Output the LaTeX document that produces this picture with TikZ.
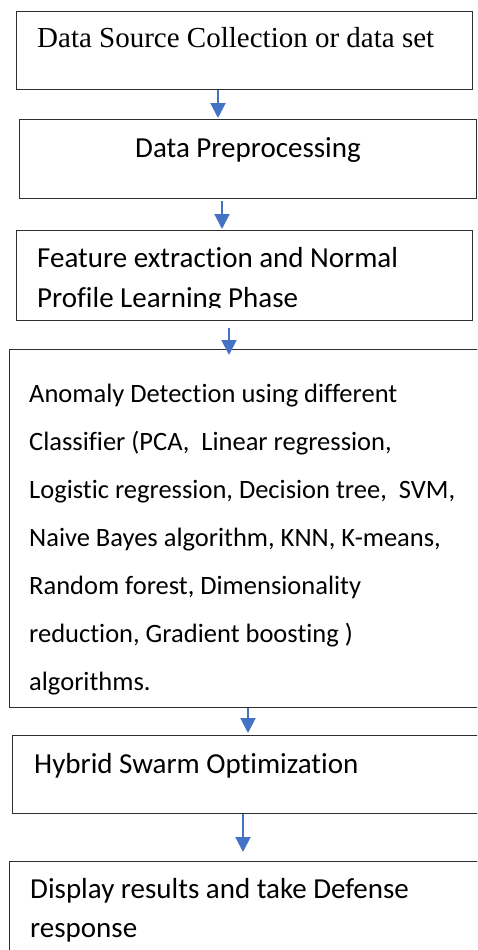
\documentclass[tikz,border=0pt]{standalone}
\usepackage{fontspec}
\setmainfont{Carlito}[Ligatures=NoCommon]
\newfontfamily\serifface{Liberation Serif}
\usetikzlibrary{arrows.meta}
\definecolor{flowblue}{HTML}{4472C4}
\definecolor{edgegray}{HTML}{2E2E2E}
\tikzset{
  stage/.style={draw=edgegray, line width=1.3pt, rectangle, inner sep=0pt, anchor=north west},
  % multi-line labels sit on the baseline of their last line
  label/.style={anchor=base west, inner sep=0pt, align=left},
  flow/.style={draw=flowblue, line width=2pt, -{Triangle[width=15pt,length=15pt]}},
}
\begin{document}
\begin{tikzpicture}[x=1pt,y=-1pt]
\useasboundingbox (0,0) rectangle (477,950);
\clip (0,0) rectangle (477,950);
\fill[white] (0,0) rectangle (477,950);

% process boxes
\node[stage, minimum width=456pt, minimum height=78pt] (b1) at (16,11) {};
\node[stage, minimum width=457pt, minimum height=79pt] (b2) at (19,119) {};
\node[stage, minimum width=456pt, minimum height=90pt] (b3) at (16,230) {};
\node[stage, minimum width=490pt, minimum height=358pt] (b4) at (9,349) {};
\node[stage, minimum width=490pt, minimum height=78pt] (b5) at (12,735) {};
\node[stage, minimum width=490pt, minimum height=130pt] (b6) at (9,861) {};

% box texts
\node[label, font=\serifface\fontsize{29}{34}\selectfont] (t1) at (37,48) {Data Source Collection or data set};
\node[label, font=\fontsize{29}{34}\selectfont] (t2) at (135,157) {Data Preprocessing};
\begin{scope}
  \clip (16,230) rectangle (472,307.5);
  \node[label, font=\fontsize{29}{40}\selectfont] (t3) at (37,307) {Feature extraction and Normal\\Profile Learning Phase};
\end{scope}
\node[label, font=\fontsize{26.5}{48}\selectfont] (t4) at (29,690) {Anomaly Detection using different\\Classifier (PCA,\ \ Linear regression,\\Logistic regression, Decision tree,\ \ SVM,\\Naive Bayes algorithm, KNN, K-means,\\Random forest, Dimensionality\\reduction, Gradient boosting )\\algorithms.};
\node[label, font=\fontsize{29}{34}\selectfont] (t5) at (34,773) {Hybrid Swarm Optimization};
\node[label, font=\fontsize{29}{39}\selectfont] (t6) at (30,937) {Display results and take Defense\\response};

% arrow columns
\coordinate (x1) at (218,0);
\coordinate (x2) at (222,0);
\coordinate (x3) at (229,0);
\coordinate (x4) at (248,0);
\coordinate (x5) at (243,0);

% connectors
\draw[flow, shorten >=1pt] (b1.south -| x1) -- (b2.north -| x1);
\draw[flow, shorten <=2pt, shorten >=1pt] (b2.south -| x2) -- (b3.north -| x2);
\draw[flow, shorten <=7pt, shorten >=-6pt] (b3.south -| x3) -- (b4.north -| x3);
\draw[flow, shorten >=2pt] (b4.south -| x4) -- (b5.north -| x4);
\draw[flow, shorten >=9pt] (b5.south -| x5) -- (b6.north -| x5);
\end{tikzpicture}
\end{document}
